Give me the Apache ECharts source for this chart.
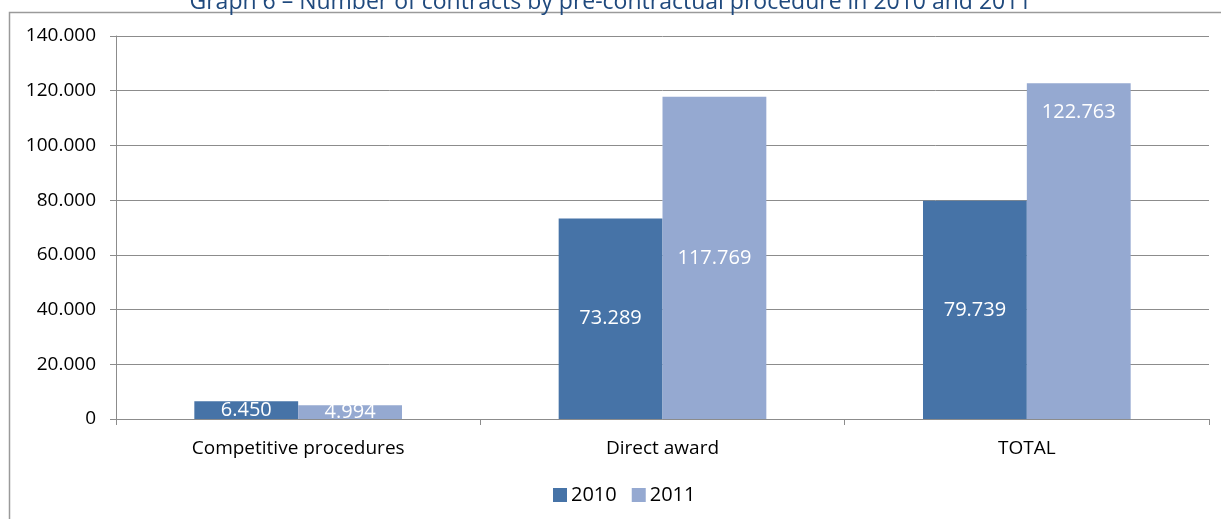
<!DOCTYPE html>
<html>
<head>
<meta charset="utf-8">
<script src="https://cdn.jsdelivr.net/npm/echarts@6/dist/echarts.min.js"></script>
<style>
  html, body { margin: 0; padding: 0; background: #ffffff; }
  #chart { width: 1221px; height: 519px; }
</style>
</head>
<body>
<div id="chart"></div>
<script>
// Contracts by pre-contractual procedure, 2010 vs 2011
const categories = ['Competitive procedures', 'Direct award', 'TOTAL'];
const seriesNames = ['2010', '2011'];
const values2010 = [6450, 73289, 79739];
const values2011 = [4994, 117769, 122763];
const yTicks = { min: 0, max: 140000, interval: 20000 };

const titleText = 'Graph 6 – Number of contracts by pre-contractual procedure in 2010 and 2011';
const FONT = '"Open Sans", sans-serif';

// thousands separated with a dot: 117769 -> "117.769"
function fmt(v) {
  return String(Math.round(v)).replace(/\B(?=(\d{3})+(?!\d))/g, '.');
}

const labelBase = {
  show: true,
  position: 'inside',
  color: '#ffffff',
  fontFamily: FONT,
  fontSize: 20,
  formatter: p => fmt(p.value)
};

// the tallest bar carries its label near the top instead of the middle
const maxAll = Math.max(...values2010, ...values2011);
function toData(arr) {
  return arr.map(v => v === maxAll
    ? { value: v, label: { position: 'insideTop', distance: 19 } }
    : v);
}

const chart = echarts.init(document.getElementById('chart'), null, { renderer: 'canvas' });

const option = {
  backgroundColor: '#ffffff',
  animation: false,
  title: {
    text: titleText,
    left: 'center',
    top: -14,
    textStyle: { fontFamily: FONT, fontSize: 23, fontWeight: 'normal', color: '#1f497d' }
  },
  legend: {
    data: seriesNames,
    bottom: 9,
    left: 548,
    icon: 'rect',
    itemWidth: 14,
    itemHeight: 14,
    itemGap: 15,
    textStyle: { fontFamily: FONT, fontSize: 20, color: '#000000', padding: [0, 0, 0, -1] }
  },
  grid: { left: 116, right: 12, top: 36, bottom: 100, containLabel: false },
  xAxis: {
    type: 'category',
    data: categories,
    axisLine: { lineStyle: { color: '#8c8c8c', width: 1 } },
    axisTick: { show: true, length: 6, lineStyle: { color: '#8c8c8c' } },
    axisLabel: { fontFamily: FONT, fontSize: 19, color: '#000000', margin: 20 }
  },
  yAxis: {
    type: 'value',
    min: yTicks.min,
    max: yTicks.max,
    interval: yTicks.interval,
    axisLine: { show: true, lineStyle: { color: '#8c8c8c', width: 1 } },
    axisTick: { show: true, length: 6, lineStyle: { color: '#8c8c8c' } },
    axisLabel: { fontFamily: FONT, fontSize: 19, color: '#000000', margin: 20, formatter: v => fmt(v) },
    splitLine: { show: true, lineStyle: { color: '#8c8c8c', width: 1 } }
  },
  series: [
    {
      name: seriesNames[0],
      type: 'bar',
      data: toData(values2010),
      itemStyle: { color: '#4673a7' },
      barGap: '0%',
      barCategoryGap: '43%',
      label: labelBase,
      z: 2
    },
    {
      name: seriesNames[1],
      type: 'bar',
      data: toData(values2011),
      itemStyle: { color: '#95a9d1' },
      barGap: '0%',
      barCategoryGap: '43%',
      label: labelBase,
      z: 2
    }
  ]
};

chart.setOption(option);

// outer frame of the chart area and a white strip that trims value
// labels running below the baseline of the first category
const y0 = chart.convertToPixel({ yAxisIndex: 0 }, 0);
const c0 = chart.convertToPixel({ xAxisIndex: 0 }, 0);
const c1 = chart.convertToPixel({ xAxisIndex: 0 }, 1);
const band = c1 - c0;

chart.setOption({
  graphic: [
    {
      type: 'rect',
      silent: true,
      z: 0,
      shape: { x: 9.5, y: 12.5, width: 1400, height: 700 },
      style: { fill: 'none', stroke: '#9a9a9a', lineWidth: 1.5 }
    },
    {
      type: 'rect',
      silent: true,
      z: 100,
      shape: { x: c0 - band / 2 + 3, y: y0 + 1, width: band - 6, height: 12 },
      style: { fill: '#ffffff' }
    }
  ]
});
</script>
</body>
</html>
